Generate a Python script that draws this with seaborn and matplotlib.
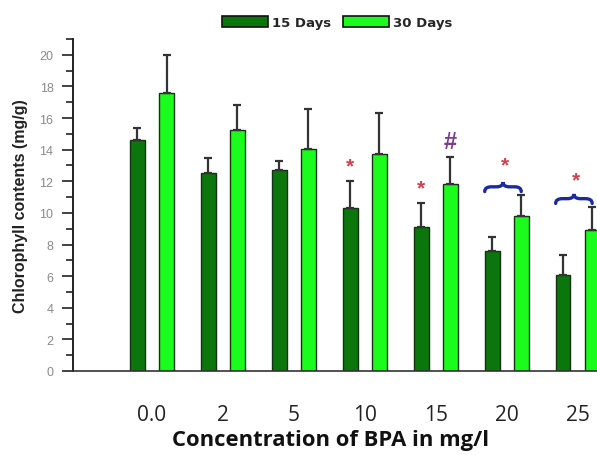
import numpy as np
import pandas as pd
import matplotlib
matplotlib.use("Agg")
import matplotlib.pyplot as plt
from matplotlib.path import Path
from matplotlib.patches import PathPatch
from matplotlib.ticker import MultipleLocator
import seaborn as sns

# ---- data ----
concentrations = ["0.0", "2", "5", "10", "15", "20", "25"]
days_15 = [14.6, 12.5, 12.7, 10.3, 9.1, 7.6, 6.05]
days_15_sd = [0.75, 1.0, 0.6, 1.7, 1.55, 0.9, 1.3]
days_30 = [17.6, 15.25, 14.05, 13.75, 11.85, 9.8, 8.9]
days_30_sd = [2.4, 1.55, 2.55, 2.6, 1.7, 1.35, 1.5]
series_names = ["15 Days", "30 Days"]
colors = ["#0b760b", "#1cfc1c"]

# significance marks
star_marks = [("10", "15 Days"), ("15", "15 Days")]
hash_marks = [("15", "30 Days")]
brace_groups = ["20", "25"]
brace_levels = [11.65, 10.9]
brace_star_levels = [13.05, 12.1]

df = pd.DataFrame({
    "conc": concentrations * 2,
    "value": days_15 + days_30,
    "sd": days_15_sd + days_30_sd,
    "series": [series_names[0]] * len(concentrations) + [series_names[1]] * len(concentrations),
})

sns.set_theme(style="white")
plt.rcParams["font.family"] = ["Liberation Sans", "DejaVu Sans"]

fig = plt.figure(figsize=(5.97, 4.56), dpi=100)
ax = fig.add_axes([73 / 597, 84 / 456, 533 / 597, 332 / 456])

sns.barplot(data=df, x="conc", y="value", hue="series", order=concentrations,
            hue_order=series_names, palette=colors, saturation=1, width=0.82, gap=0.49,
            errorbar=None, edgecolor="#163016", linewidth=1.0, ax=ax,
            legend=True)

# error bars (positive only) at the bar centres
patches = [p for p in ax.patches if p.get_height() > 0]
n = len(concentrations)
bar_pos = {}
for i, p in enumerate(patches[: 2 * n]):
    s = i // n
    c = i % n
    cx = p.get_x() + p.get_width() / 2
    bar_pos[(concentrations[c], series_names[s])] = (cx, p.get_x(), p.get_width())
    sd = df["sd"].iloc[i]
    ax.errorbar(cx, p.get_height(), yerr=[[0], [sd]], fmt="none",
                ecolor="#333333", elinewidth=1.6, capsize=3, capthick=1.6, zorder=3)

def top_of(conc, series):
    idx = concentrations.index(conc)
    if series == series_names[0]:
        return days_15[idx] + days_15_sd[idx]
    return days_30[idx] + days_30_sd[idx]

for conc, ser in star_marks:
    cx = bar_pos[(conc, ser)][0]
    ax.text(cx, top_of(conc, ser) + 0.35, "*", color="#d0404e", fontsize=15,
            ha="center", va="bottom", fontweight="bold")
for conc, ser in hash_marks:
    cx = bar_pos[(conc, ser)][0]
    ax.text(cx, top_of(conc, ser) + 0.25, "#", color="#7d3c8c", fontsize=17,
            ha="center", va="bottom", fontweight="bold")

def brace(ax, x0, x1, y, h, color):
    xm = (x0 + x1) / 2
    q = (x1 - x0) * 0.18
    verts = [
        (x0, y - h), (x0, y), (x0 + q, y),
        (xm - q, y), (xm, y), (xm, y + h),
        (xm, y), (xm + q, y),
        (x1 - q, y), (x1, y), (x1, y - h),
    ]
    codes = [Path.MOVETO, Path.CURVE3, Path.CURVE3,
             Path.LINETO, Path.CURVE3, Path.CURVE3,
             Path.CURVE3, Path.CURVE3,
             Path.LINETO, Path.CURVE3, Path.CURVE3]
    ax.add_patch(PathPatch(Path(verts, codes), fill=False, edgecolor=color,
                           linewidth=2.4, capstyle="round", zorder=4))

for conc, lvl, slvl in zip(brace_groups, brace_levels, brace_star_levels):
    _, dx, dw = bar_pos[(conc, series_names[0])]
    lx = bar_pos[(conc, series_names[1])][0]
    x0 = dx
    x1 = lx
    brace(ax, x0, x1, lvl, 0.3, "#1c2aa0")
    ax.text((x0 + x1) / 2 + 0.03, slvl, "*", color="#d0404e", fontsize=15,
            ha="center", va="center", fontweight="bold")

ax.set_xlim(-1.113, 6.4)
ax.set_ylim(0, 21)
ax.yaxis.set_major_locator(MultipleLocator(2))
ax.yaxis.set_minor_locator(MultipleLocator(1))
ax.tick_params(axis="y", which="major", direction="out", length=8, width=1.2,
               colors="#222222", labelcolor="#8a8a8a", labelsize=9, left=True, pad=6)
ax.tick_params(axis="y", which="minor", direction="out", length=5, width=1.2,
               colors="#222222", left=True)
ax.tick_params(axis="x", which="both", length=0, labelsize=15, pad=24)
for lab in ax.get_xticklabels():
    lab.set_fontfamily(["Open Sans", "DejaVu Sans"])
    lab.set_color("#222222")

sns.despine(ax=ax)
ax.spines["left"].set_color("#222222")
ax.spines["left"].set_linewidth(1.4)
ax.spines["bottom"].set_color("#333333")
ax.spines["bottom"].set_linewidth(1.2)

ax.set_ylabel("Chlorophyll contents (mg/g)", fontsize=11.5, fontweight="bold",
              color="#222222")
ax.yaxis.set_label_coords(-45 / 533, 0.5)
ax.set_xlabel("Concentration of BPA in mg/l", fontsize=15.8, fontweight="bold",
              fontfamily=["Open Sans", "DejaVu Sans"], color="#111111")
ax.xaxis.label.set_va("center")
ax.xaxis.set_label_coords((330 - 73) / 533, -69 / 332)

leg = ax.legend(ncol=2, frameon=False, fontsize=9.5, handlelength=3.5, handleheight=1.0,
                handletextpad=0.3, columnspacing=0.9, borderaxespad=0,
                loc="upper center")
leg.set_bbox_to_anchor((337 / 597, 0.975), transform=fig.transFigure)
for t in leg.get_texts():
    t.set_fontweight("bold")
    t.set_fontfamily(["DejaVu Sans"])
for h in leg.legend_handles:
    h.set_edgecolor("#111111")
    h.set_linewidth(1.2)

fig.savefig("out.png", dpi=100)
